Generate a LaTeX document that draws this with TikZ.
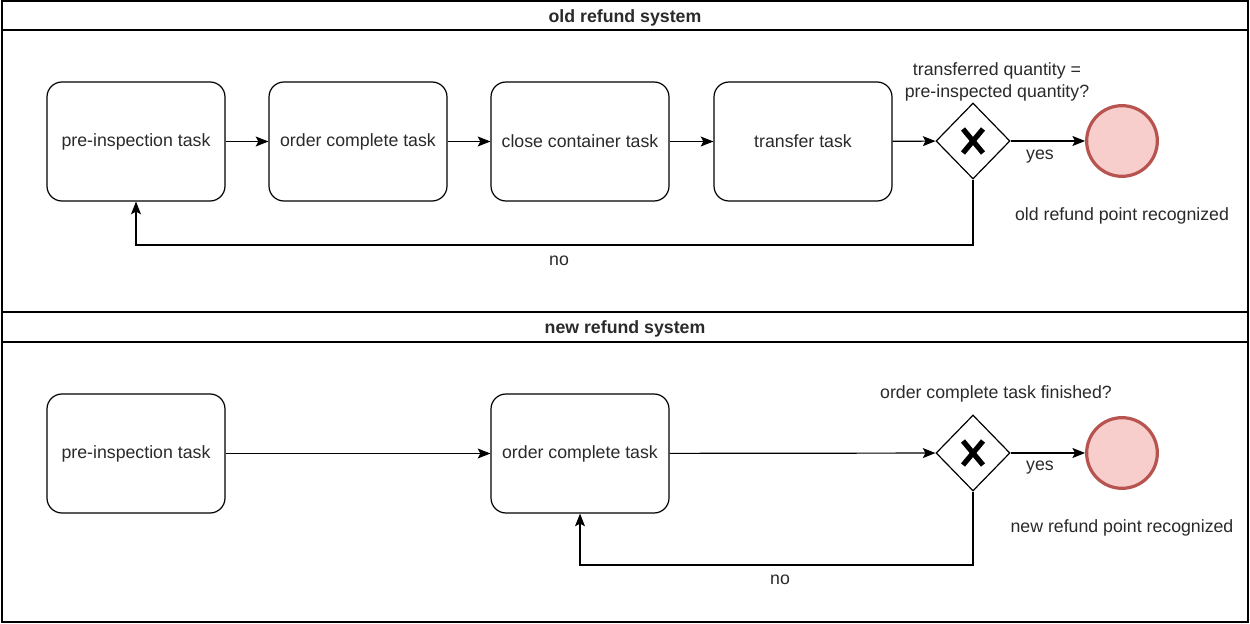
\documentclass[tikz,border=0pt]{standalone}
\usepackage{fontspec}
\setmainfont{Liberation Sans}
\usetikzlibrary{arrows.meta,shapes.geometric,calc}
\definecolor{endfill}{HTML}{F8CECC}
\definecolor{endline}{HTML}{B85450}
\definecolor{txt}{HTML}{2A2A2A}
\begin{document}
\begin{tikzpicture}[x=0.75pt,y=-0.75pt,
  every node/.style={font=\fontsize{13.3}{16.5}\selectfont,text=txt},
  task/.style={draw,rounded corners=11.25pt,minimum width=133.5pt,minimum height=89.25pt,line width=0.9pt,inner sep=0pt},
  gate/.style={diamond,draw,fill=white,minimum width=55.5pt,minimum height=57pt,inner sep=0pt,line width=0.9pt},
  endev/.style={circle,draw=endline,fill=endfill,line width=2.4pt,minimum size=53pt,inner sep=0pt},
  flow/.style={line width=0.9pt,-{Stealth[length=9.5pt,width=7.5pt,inset=2pt]}},
  pool/.style={draw,line width=0.9pt},
  label/.style={inner sep=1pt},
  title/.style={font=\fontsize{13.3}{16.5}\selectfont\bfseries}]
\useasboundingbox (0,0) rectangle (1250,624);
\fill[white] (0,0) rectangle (1250,624);

% pools with title bands
\draw[pool] (2,1) rectangle (1248,312);
\draw[pool] (2,30) -- (1248,30);
\node[title] (t1) at (625,17.5) {old refund system};
\draw[pool] (2,312) rectangle (1248,622);
\draw[pool] (2,342) -- (1248,342);
\node[title] (t2) at (625,328.5) {new refund system};

% old refund system
\node[task] (a1) at (136,141.5) {pre-inspection task};
\node[task] (a2) at (358,141.5) {order complete task};
\node[task] (a3) at (580,141.5) {close container task};
\node[task] (a4) at (803,141.5) {transfer task};
\node[gate] (g1) at (973,141) {};
\draw[line width=3.9pt] ($(g1)+(-10,-12)$) -- ($(g1)+(10,12)$) ($(g1)+(10,-12)$) -- ($(g1)+(-10,12)$);
\node[endev] (e1) at (1122,141) {};
\node[label,align=center] (q1) at (997,82) {transferred quantity =\\pre-inspected quantity?};
\node[label] (y1) at (1040,157) {yes};
\node[label] (r1) at (1122,216) {old refund point recognized};
\node[label] (n1) at (559,261) {no};
\coordinate (l1a) at (973,245);
\coordinate (l1b) at (136,245);

\draw[flow] (a1) -- (a2);
\draw[flow] (a2) -- (a3);
\draw[flow] (a3) -- (a4);
\draw[flow] (a4) -- (g1);
\draw[flow] (g1) -- (e1);
\draw[flow] (g1.south) -- (l1a) -- (l1b) -- (a1.south);

% new refund system
\node[task] (b1) at (136,453.5) {pre-inspection task};
\node[task] (b2) at (580,453.5) {order complete task};
\node[gate] (g2) at (973,453) {};
\draw[line width=3.9pt] ($(g2)+(-10,-12)$) -- ($(g2)+(10,12)$) ($(g2)+(10,-12)$) -- ($(g2)+(-10,12)$);
\node[endev] (e2) at (1122,453) {};
\node[label] (q2) at (996,394) {order complete task finished?};
\node[label] (y2) at (1040,468) {yes};
\node[label] (r2) at (1122,528) {new refund point recognized};
\node[label] (n2) at (780,580) {no};
\coordinate (l2a) at (973,565);
\coordinate (l2b) at (580,565);

\draw[flow] (b1) -- (b2);
\draw[flow] (b2) -- (g2);
\draw[flow] (g2) -- (e2);
\draw[flow] (g2.south) -- (l2a) -- (l2b) -- (b2.south);
\end{tikzpicture}
\end{document}
